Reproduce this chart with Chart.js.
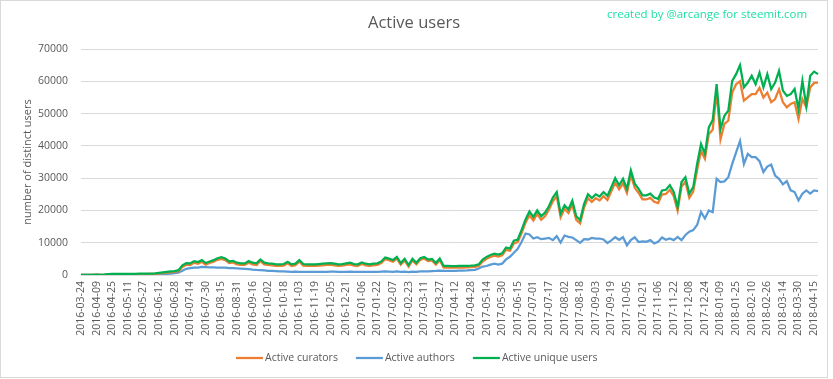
<!DOCTYPE html>
<html><head><meta charset="utf-8">
<script src="https://cdn.jsdelivr.net/npm/chart.js@4.4.1/dist/chart.umd.min.js"></script>
<style>html,body{margin:0;padding:0;background:#fff;}canvas{display:block;}</style>
</head><body>
<canvas id="c" width="833" height="379"></canvas>
<script>
// ---- data (one sample every 4 days, starting 2016-03-24) ----
const startDate = '2016-03-24';
const stepDays = 4;
const titleText = 'Active users';
const creditText = 'created by @arcange for steemit.com';
const yAxisTitle = 'number of distinct users';
const seriesNames = ['Active curators', 'Active authors', 'Active unique users'];
const yTicks = [0, 10000, 20000, 30000, 40000, 50000, 60000, 70000];

const curators = [5,10,15,20,100,40,60,200,220,230,230,240,250,260,260,270,280,300,320,350,480,600,720,850,950,1200,
2500,3200,3100,3800,3500,4100,3200,3700,4100,4700,5000,4600,3700,3900,3300,3100,3100,3800,3300,3100,4300,3300,3100,3000,
2800,2800,2900,3600,2800,3000,4100,2900,2800,2800,2800,2900,3000,3100,3200,3000,2800,2900,3100,3300,2900,2800,3400,3000,
2800,3000,3100,3700,4900,4600,4100,5100,3200,4500,2600,4500,3300,4700,5100,4300,4500,3200,4600,2300,2300,2250,2250,2300,
2300,2350,2400,2500,2800,4200,
5000,5600,6000,5700,6100,7800,7500,9800,10200,13000,16200,18500,16900,18900,17100,18200,20200,22800,24400,17900,20500,
19200,21800,17100,16000,20800,23800,22600,23800,23100,
24400,23200,25900,28600,26500,28400,25400,31000,27000,25400,23400,23400,23900,22700,22300,24900,25100,26400,24400,19900,
27400,28900,23900,25800,32500,
38500,36000,43700,45000,57000,42000,46800,47800,56500,59100,60000,54000,55000,56000,56000,58000,55000,56500,53500,54500,
57500,53500,51900,53000,53500,48300,54500,51900,58100,59500,59600];

const authors = [5,10,15,20,60,30,40,100,110,120,120,130,130,140,140,150,150,160,170,180,220,280,350,450,550,750,
1300,1900,2100,2300,2300,2500,2450,2400,2350,2300,2300,2250,2150,2100,2050,2000,1900,1800,1650,1550,1500,1400,1300,1250,
1200,1150,1100,1050,1000,1050,1000,1000,950,950,950,950,1000,1000,1050,1050,1000,950,1000,1050,1000,950,1000,1000,
950,1000,1000,1050,1100,1050,1000,1100,950,1050,900,1050,1000,1100,1150,1100,1200,1250,1350,1300,1300,1300,1300,1350,
1350,1400,1500,1600,2000,2600,
2780,3190,3500,3190,3500,4830,5650,6890,8120,10280,12850,12540,11310,11720,11100,11300,11510,10800,12030,10070,12230,
11820,11620,10800,9970,11100,11000,11510,11300,11300,
11000,9900,10700,11700,10900,11700,9200,10800,11700,10200,10400,10300,10800,9800,10300,11600,10900,11300,10800,11800,
10800,12400,13400,13900,15500,
19500,17500,20000,19500,29800,28800,29000,30300,34400,38000,41500,34400,37500,36500,36500,35250,31900,33600,34200,30800,
29800,28100,29100,26200,25700,23100,25200,26200,25200,26200,26000];

const uniqueUsers = [10,20,30,40,150,60,100,300,320,340,330,350,360,380,370,390,400,420,450,500,650,800,950,1100,1200,1500,
3000,3700,3600,4300,4000,4600,3700,4200,4600,5200,5500,5100,4200,4400,3800,3600,3600,4300,3800,3600,4800,3800,3600,3500,
3300,3300,3400,4100,3300,3500,4600,3400,3300,3300,3300,3400,3500,3600,3700,3500,3300,3400,3600,3800,3400,3300,3900,3500,
3300,3500,3600,4200,5400,5100,4600,5600,3700,5000,3100,5000,3800,5200,5600,4800,5000,3700,5100,2800,2800,2750,2750,2800,
2800,2850,2900,3000,3300,4800,
5600,6200,6600,6300,6700,8500,8200,10600,11000,14000,17200,19700,18000,20000,18200,19300,21300,24000,25700,19000,21600,
20300,23000,18200,17000,22000,25000,23800,25000,24300,
25700,24500,27200,30000,27800,29800,26700,32400,28300,26700,24700,24700,25200,24000,23600,26200,26400,27800,25700,21100,
28800,30300,25200,27200,34400,
40600,37500,45700,48000,59100,45200,49300,50900,60100,62200,65000,58100,59600,61700,59100,62700,58100,62200,57600,59600,
63200,57100,55500,56000,57600,51400,60100,52400,61700,63000,62200];

// category labels: sampled dates
const categories = curators.map((_, i) =>
  new Date(Date.parse(startDate + 'T00:00:00Z') + i * stepDays * 86400000).toISOString().slice(0, 10));

const colors = { curators: '#ED7D31', authors: '#5B9BD5', unique: '#00B050' };
const textColor = '#595959';
const gridColor = '#D9D9D9';
const creditColor = '#1FE0A5';

Chart.defaults.font.family = '"Open Sans", "Liberation Sans", sans-serif';
Chart.defaults.color = textColor;

const deco = {
  id: 'deco',
  beforeDraw(chart) {
    const ctx = chart.ctx;
    ctx.save();
    ctx.fillStyle = '#fff';
    ctx.fillRect(0, 0, chart.width, chart.height);
    ctx.restore();
  },
  afterDraw(chart) {
    const ctx = chart.ctx;
    ctx.save();
    ctx.strokeStyle = gridColor; ctx.lineWidth = 1;
    ctx.strokeRect(0.5, 0.5, 827, 377);
    ctx.fillStyle = textColor;
    ctx.font = '16.5px "Open Sans"';
    ctx.textAlign = 'center'; ctx.textBaseline = 'middle';
    ctx.fillText(titleText, 414, 23);
    ctx.fillStyle = creditColor;
    ctx.font = '11.5px "Open Sans"';
    ctx.textAlign = 'left';
    ctx.fillText(creditText, 607, 15);
    let x = 236; const y = 358;
    ctx.font = '10.5px "Open Sans"';
    chart.data.datasets.forEach(ds => {
      ctx.strokeStyle = ds.borderColor; ctx.lineWidth = 2.25;
      ctx.beginPath(); ctx.moveTo(x, y); ctx.lineTo(x + 27, y); ctx.stroke();
      x += 29;
      ctx.fillStyle = textColor;
      ctx.fillText(ds.label, x, y);
      x += ctx.measureText(ds.label).width + 18;
    });
    ctx.restore();
  }
};

new Chart(document.getElementById('c'), {
  type: 'line',
  data: {
    labels: categories,
    datasets: [
      { label: seriesNames[0], data: curators, borderColor: colors.curators, backgroundColor: colors.curators, order: 1 },
      { label: seriesNames[1], data: authors, borderColor: colors.authors, backgroundColor: colors.authors, order: 2 },
      { label: seriesNames[2], data: uniqueUsers, borderColor: colors.unique, backgroundColor: colors.unique, order: 0 }
    ]
  },
  options: {
    responsive: false,
    animation: false,
    events: [],
    elements: { point: { radius: 0 }, line: { borderWidth: 2.25, tension: 0 } },
    layout: { padding: { top: 49, right: 15, bottom: 0, left: 0 } },
    plugins: { legend: { display: false }, title: { display: false }, tooltip: { enabled: false } },
    scales: {
      x: {
        type: 'category',
        grid: { display: false, drawTicks: false },
        border: { display: false },
        ticks: {
          autoSkip: false, minRotation: 90, maxRotation: 90, padding: 6,
          font: { size: 10.5 }, color: textColor,
          callback: function (v, i) { return i % 4 === 0 ? this.getLabelForValue(v) : null; }
        },
        afterFit: s => { s.height = 104; }
      },
      y: {
        min: 0, max: 70000,
        afterBuildTicks: s => { s.ticks = yTicks.map(v => ({ value: v })); },
        grid: { color: gridColor, drawTicks: false },
        border: { display: false },
        ticks: { padding: 13, font: { size: 10.5 }, color: textColor, callback: v => String(v) },
        title: { display: true, text: yAxisTitle, font: { size: 11 }, color: textColor, padding: { top: 21, bottom: 0 } },
        afterFit: s => { s.width = 81; }
      }
    }
  },
  plugins: [deco]
});
</script>
</body></html>
